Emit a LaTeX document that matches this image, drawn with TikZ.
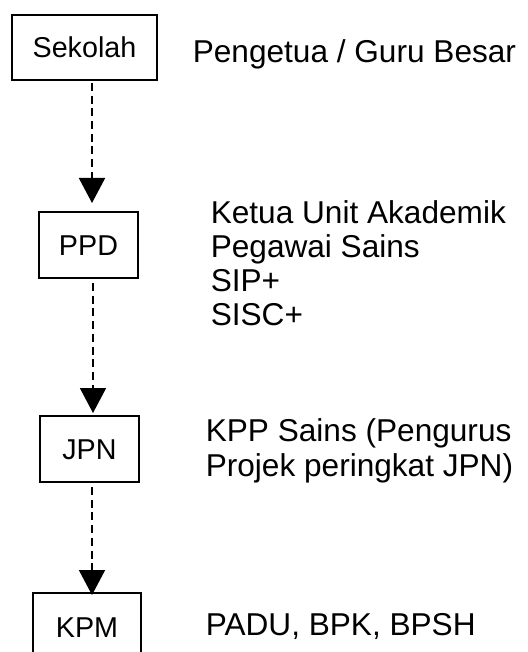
\documentclass[tikz,border=0pt]{standalone}
\usepackage{fontspec}
\setmainfont{Liberation Sans}
\usetikzlibrary{arrows.meta}
\begin{document}
\begin{tikzpicture}[x=1pt,y=-1pt,
  box/.style={draw,line width=2pt,inner sep=0pt,font=\fontsize{28.7}{34}\selectfont,text height=20.5pt,text depth=0pt},
  lbl/.style={anchor=base west,inner sep=0pt,font=\fontsize{31.6}{34}\selectfont},
  arr/.style={line width=1.8pt,dash pattern=on 8pt off 4.7pt,-{Triangle[width=26pt,length=25pt]}}]
\useasboundingbox (0,0) rectangle (527,652);
\clip (0,0) rectangle (527,652);
\fill[white] (0,0) rectangle (527,652);
% boxes
\node[box,minimum width=145pt,minimum height=65pt] (sek) at (84.5,47.5) {Sekolah};
\node[box,minimum width=99pt,minimum height=66pt] (ppd) at (88.5,245) {PPD};
\node[box,minimum width=99pt,minimum height=66pt] (jpn) at (89.5,449) {JPN};
\node[box,minimum width=108pt,minimum height=68pt] (kpm) at (87,627) {KPM};
% labels
\node[lbl] (t1) at (192.6,63) {Pengetua / Guru Besar};
\node[lbl] (t2) at (210.6,223.3) {Ketua Unit Akademik};
\node[lbl] (t3) at (210.6,257.4) {Pegawai Sains};
\node[lbl] (t4) at (210.6,291.5) {SIP+};
\node[lbl] (t5) at (210.6,325.6) {SISC+};
\node[lbl] (t6) at (205.6,441.7) {KPP Sains (Pengurus};
\node[lbl] (t7) at (205.6,476.7) {Projek peringkat JPN)};
\node[lbl] (t8) at (205.6,635) {PADU, BPK, BPSH};
% arrow columns
\coordinate (c1) at (92,0);
\coordinate (c2) at (93,0);
\coordinate (c3) at (92,0);
\draw[arr,shorten <=2pt,shorten >=8pt] (sek.south -| c1) -- (ppd.north -| c1);
\draw[arr,shorten <=4pt,shorten >=2pt] (ppd.south -| c2) -- (jpn.north -| c2);
\draw[arr,shorten <=4pt,shorten >=-3pt] (jpn.south -| c3) -- (kpm.north -| c3);
\end{tikzpicture}
\end{document}
